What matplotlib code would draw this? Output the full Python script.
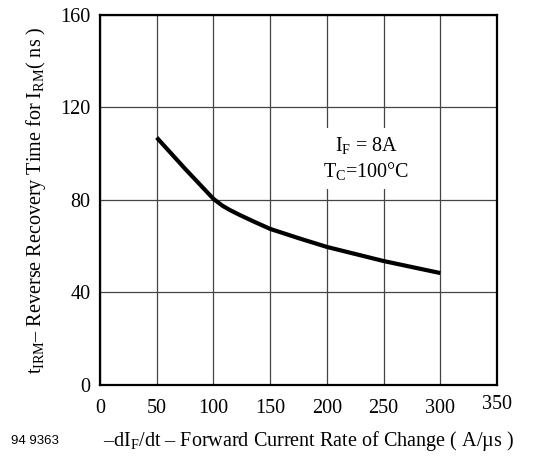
import matplotlib
matplotlib.use('Agg')
import matplotlib.pyplot as plt

# curve
didt = [50, 75, 100, 108, 114, 122, 135, 150, 175, 200, 250, 300]
t_irm = [107, 93.5, 80.5, 77.5, 75.8, 73.8, 70.8, 67.5, 63.5, 59.7, 53.6, 48.4]

xticks = [0, 50, 100, 150, 200, 250, 300, 350]
yticks = [0, 40, 80, 120, 160]

plt.rcParams['font.family'] = ['Liberation Serif', 'DejaVu Serif']
plt.rcParams['mathtext.fontset'] = 'custom'
plt.rcParams['mathtext.rm'] = 'Liberation Serif'
plt.rcParams['mathtext.it'] = 'Liberation Serif:italic'

fig = plt.figure(figsize=(5.37, 4.61), dpi=100)
ax = fig.add_axes([0.1862, 0.1649, 0.7393, 0.8026])

ax.plot(didt, t_irm, color='black', lw=3, solid_capstyle='butt', zorder=3)

ax.set_xlim(0, 350)
ax.set_ylim(0, 160)
ax.set_xticks(xticks)
ax.set_yticks(yticks)
ax.set_xticklabels([])
ax.set_yticklabels([str(v) for v in yticks])
ax.tick_params(length=0, labelsize=14.5, pad=7)
for x in xticks:
    dy = -10 if x < 350 else -7
    ax.annotate(str(x), (x, 0), xytext=(0, dy), textcoords='offset points',
                ha='center', va='top', fontsize=14.5, annotation_clip=False)

ax.grid(True, color='#444444', lw=0.9)
for s in ax.spines.values():
    s.set_linewidth(1.6)

ax.text(235, 98, "I$_\\mathrm{F}$ = 8A\nT$_\\mathrm{C}$=100°C", ha='center', va='center',
        fontsize=14.5, linespacing=1.25,
        bbox=dict(facecolor='white', edgecolor='none', pad=5), zorder=2)

ax.set_ylabel("t$_\\mathrm{IRM}$– Reverse Recovery Time for I$_\\mathrm{RM}$( ns )",
              fontsize=14.5, labelpad=9)
fig.text(0.575, 0.043, "–dI$_\\mathrm{F}$/dt – Forward Current Rate of Change ( A/µs )",
         ha='center', va='center', fontsize=14.5)
fig.text(0.02, 0.043, "94 9363", ha='left', va='center', fontsize=9.5,
         family=['Liberation Sans', 'DejaVu Sans'])

fig.savefig('out.png', dpi=100)
